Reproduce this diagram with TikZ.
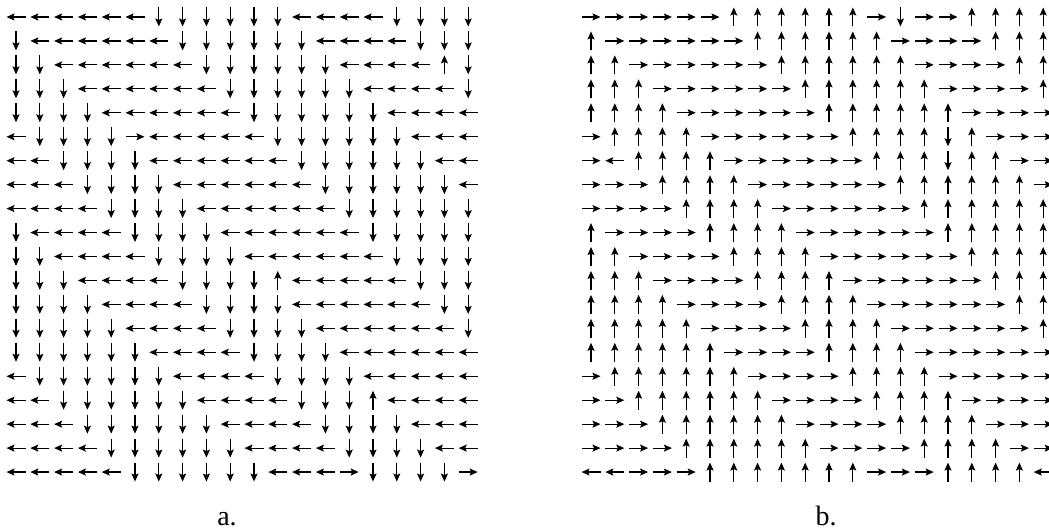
\documentclass[tikz,border=0pt]{standalone}
\usepackage{fontspec}
\setmainfont{Liberation Serif}
\usetikzlibrary{arrows.meta}

% one row per line, L/R/U/D = direction of the arrow
\newcommand{\fieldA}{%
  {L,L,L,L,L,L,D,D,D,D,D,D,L,L,L,L,D,D,D,D},
  {D,L,L,L,L,L,L,D,D,D,D,D,D,L,L,L,L,D,D,D},
  {D,D,L,L,L,L,L,L,D,D,D,D,D,D,L,L,L,L,U,D},
  {D,D,D,L,L,L,L,L,L,D,D,D,D,D,D,L,L,L,L,D},
  {D,D,D,D,L,L,L,L,L,L,D,D,D,D,D,D,L,L,L,L},
  {L,D,D,D,D,R,L,L,L,L,L,D,D,D,D,D,D,L,L,L},
  {L,L,D,D,D,D,L,L,L,L,L,L,D,D,D,D,D,D,L,L},
  {L,L,L,D,D,D,D,L,L,L,L,L,L,D,D,D,D,D,D,L},
  {L,L,L,L,D,D,D,D,L,L,L,L,L,L,D,D,D,D,D,D},
  {D,L,L,L,L,D,D,D,D,L,L,L,L,L,L,D,D,D,D,D},
  {D,D,L,L,L,L,D,D,D,D,L,L,L,L,L,L,D,D,D,D},
  {D,D,D,L,L,L,L,D,D,D,D,U,L,L,L,L,L,D,D,D},
  {D,D,D,D,L,L,L,L,D,D,D,D,L,L,L,L,L,L,D,D},
  {D,D,D,D,D,L,L,L,L,D,D,D,D,L,L,L,L,L,L,D},
  {D,D,D,D,D,D,L,L,L,L,D,D,D,D,L,L,L,L,L,L},
  {L,D,D,D,D,D,D,L,L,L,L,D,D,D,D,L,L,L,L,L},
  {L,L,D,D,D,D,D,D,L,L,L,L,D,D,D,U,L,L,L,L},
  {L,L,L,D,D,D,D,D,D,L,L,L,L,D,D,D,D,L,L,L},
  {L,L,L,L,D,D,D,D,D,D,L,L,L,L,D,D,D,D,L,L},
  {L,L,L,L,L,D,D,D,D,D,D,L,L,L,R,D,D,D,D,R}}
\newcommand{\fieldB}{%
  {R,R,R,R,R,R,U,U,U,U,U,U,R,D,R,R,U,U,U,U},
  {U,R,R,R,R,R,R,U,U,U,U,U,U,R,R,R,R,U,U,U},
  {U,U,R,R,R,R,R,R,U,U,U,U,U,U,R,R,R,R,U,U},
  {U,U,U,R,R,R,R,R,R,U,U,U,U,U,U,R,R,R,R,U},
  {U,U,U,U,R,R,R,R,R,R,U,U,U,U,U,U,R,R,R,R},
  {R,U,U,U,U,R,R,R,R,R,R,U,U,U,U,D,U,R,R,R},
  {R,L,U,U,U,U,R,R,R,R,R,R,U,U,U,D,U,U,R,R},
  {R,R,R,U,U,U,U,R,R,R,R,R,R,U,U,U,U,U,U,R},
  {R,R,R,R,U,U,U,U,R,R,R,R,R,R,U,U,U,U,U,U},
  {U,R,R,R,R,U,U,U,U,R,R,R,R,R,R,U,U,U,U,U},
  {U,U,R,R,R,R,U,U,U,U,R,R,R,R,R,R,U,U,U,U},
  {U,U,U,R,R,R,R,U,U,U,U,R,R,R,R,R,R,U,U,U},
  {U,U,U,U,R,R,R,R,U,U,U,U,R,R,R,R,R,R,U,U},
  {U,U,U,U,U,R,R,R,R,U,U,U,U,R,R,R,R,R,R,U},
  {U,U,U,U,U,U,R,R,R,R,U,U,U,U,R,R,R,R,R,R},
  {R,U,U,U,U,U,U,R,R,R,R,U,U,U,U,R,R,R,R,R},
  {R,R,U,U,U,U,U,U,R,R,R,R,U,U,U,U,R,R,R,R},
  {R,R,R,U,U,U,U,U,U,R,R,R,R,U,U,U,U,R,R,R},
  {R,R,R,R,U,U,U,U,U,U,R,R,R,R,U,U,U,U,R,R},
  {L,L,R,R,R,U,U,U,U,U,U,U,R,R,R,U,U,U,U,L}}

\begin{document}
\begin{tikzpicture}[x=1pt, y=-1pt,
    vec/.style={line width=1.2pt, -{Stealth[length=8pt, width=7pt, inset=1.5pt]}},
    dR/.style={}, dL/.style={rotate=180}, dU/.style={rotate=90}, dD/.style={rotate=-90},
    caption/.style={font=\fontsize{28}{30}\selectfont, anchor=base}]
  \useasboundingbox (0,0) rectangle (1049,532);
  \foreach \row [count=\r from 0] in \fieldA {
    \foreach \d [count=\c from 0] in \row
      \draw[vec, shift={(16+23.8*\c, 17+23.95*\r)}, d\d] (-9.5,0) -- (9.5,0);
  }
  \foreach \row [count=\r from 0] in \fieldB {
    \foreach \d [count=\c from 0] in \row
      \draw[vec, shift={(591+23.8*\c, 17+23.95*\r)}, d\d] (-9.5,0) -- (9.5,0);
  }
  \node[caption] (capA) at (227,525) {a.};
  \node[caption] (capB) at (826,525) {b.};
\end{tikzpicture}
\end{document}
